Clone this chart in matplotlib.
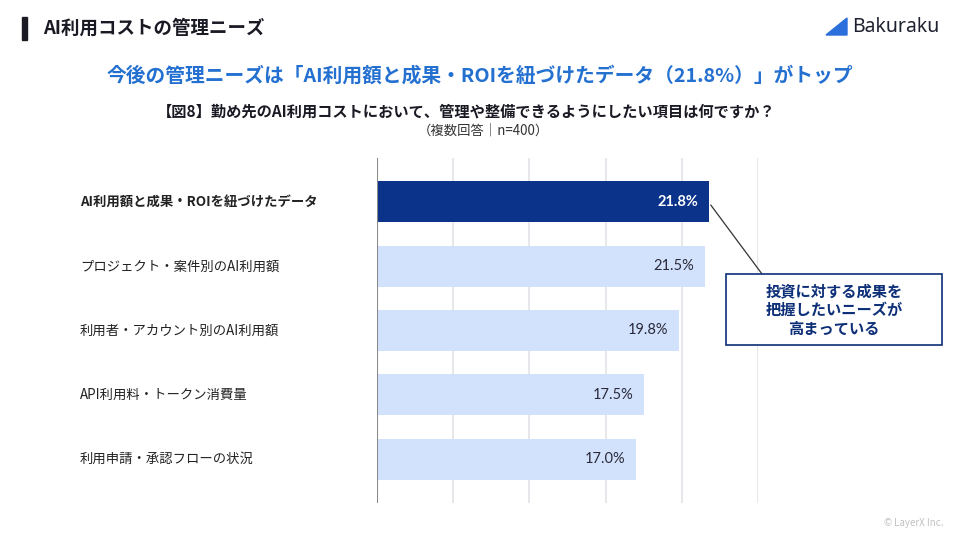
import matplotlib.pyplot as plt
from matplotlib.patches import Rectangle, Polygon

plt.rcParams['font.family'] = ['Noto Sans CJK JP', 'DejaVu Sans']

items = ["AI利用額と成果・ROIを紐づけたデータ", "プロジェクト・案件別のAI利用額",
         "利用者・アカウント別のAI利用額", "API利用料・トークン消費量", "利用申請・承認フローの状況"]
values = [21.8, 21.5, 19.8, 17.5, 17.0]
value_labels = ["21.8%", "21.5%", "19.8%", "17.5%", "17.0%"]
grid_ticks = [0, 5, 10, 15, 20, 25]

W, H = 960, 540
fig = plt.figure(figsize=(9.6, 5.4), dpi=100)
fig.patch.set_facecolor('white')

# axes placed in pixel coordinates: x 377..758, y 158..503
ax = fig.add_axes([377 / W, 1 - 503 / H, (758 - 377) / W, (503 - 158) / H])
ax.set_xlim(0, 25)
ax.set_ylim(4.68, -0.68)

navy = '#0a3389'
light = '#d3e2fc'
colors = [navy] + [light] * 4
ax.barh(range(len(values)), values, height=0.64, color=colors, zorder=2)

for x in grid_ticks[1:]:
    ax.axvline(x, color='#e3e1e6', lw=1.2, zorder=1)
ax.axvline(0, color='#8a8a8a', lw=1.5, zorder=3)

for i, (v, lab) in enumerate(zip(values, value_labels)):
    if i == 0:
        ax.text(v - 0.7, i, lab, ha='right', va='center', color='white',
                fontsize=10.5, fontweight='bold', family=['Lato', 'DejaVu Sans'], zorder=4)
    else:
        ax.text(v - 0.7, i, lab, ha='right', va='center', color='#2a2a3a',
                fontsize=10.5, family=['Lato', 'DejaVu Sans'], zorder=4)

for i, name in enumerate(items):
    fig.text(80 / W, 1 - (202 + 64.3 * i) / H, name, ha='left', va='center',
             fontsize=9.6, color='#222222', fontweight='bold' if i == 0 else 'normal')

ax.set_xticks([])
ax.set_yticks([])
for s in ax.spines.values():
    s.set_visible(False)

# header
fig.add_artist(Rectangle((22 / W, 1 - 40 / H), 5 / W, 23 / H, transform=fig.transFigure,
                         color='#1a1a24'))
fig.text(43 / W, 1 - 28 / H, "AI利用コストの管理ニーズ", ha='left', va='center',
         fontsize=13.3, fontweight='bold', color='#1a1a24')

# logo
fig.add_artist(Polygon([(826 / W, 1 - 35 / H), (847 / W, 1 - 18 / H), (847 / W, 1 - 35 / H)],
                       closed=True, transform=fig.transFigure, color='#2a6fdb'))
fig.text(852 / W, 1 - 27 / H, "Bakuraku", ha='left', va='center', fontsize=14,
         fontweight='bold', color='#1e2230', family=['Noto Sans', 'DejaVu Sans'])

# titles
fig.text(480 / W, 1 - 76 / H, "今後の管理ニーズは「AI利用額と成果・ROIを紐づけたデータ（21.8%）」がトップ",
         ha='center', va='center', fontsize=14.2, fontweight='bold', color='#2370d0')
fig.text(466 / W, 1 - 112 / H, "【図8】勤め先のAI利用コストにおいて、管理や整備できるようにしたい項目は何ですか？",
         ha='center', va='center', fontsize=11, fontweight='bold', color='#1a1a24')
fig.text(483 / W, 1 - 131 / H, "（複数回答｜n=400）", ha='center', va='center',
         fontsize=9.6, color='#333333')

# callout box
fig.add_artist(Rectangle((726 / W, 1 - 345 / H), 216 / W, 71 / H, transform=fig.transFigure,
                         fc='white', ec='#0d2f78', lw=1.2, zorder=5))
fig.text(834 / W, 1 - 310 / H, "投資に対する成果を\n把握したいニーズが\n高まっている",
         ha='center', va='center', fontsize=11, fontweight='bold', color='#0d2f78',
         linespacing=1.2, zorder=6)
ax.annotate("", xy=(21.9, 0.05), xycoords='data',
            xytext=(762 / W, 1 - 274 / H), textcoords='figure fraction',
            arrowprops=dict(arrowstyle='-', color='#333333', lw=0.9, shrinkA=0, shrinkB=0),
            zorder=5, annotation_clip=False)

fig.text(943 / W, 1 - 523 / H, "© LayerX Inc.", ha='right', va='center', fontsize=7,
         color='#c0c0c0')

fig.savefig('out.png', dpi=100, facecolor='white')
